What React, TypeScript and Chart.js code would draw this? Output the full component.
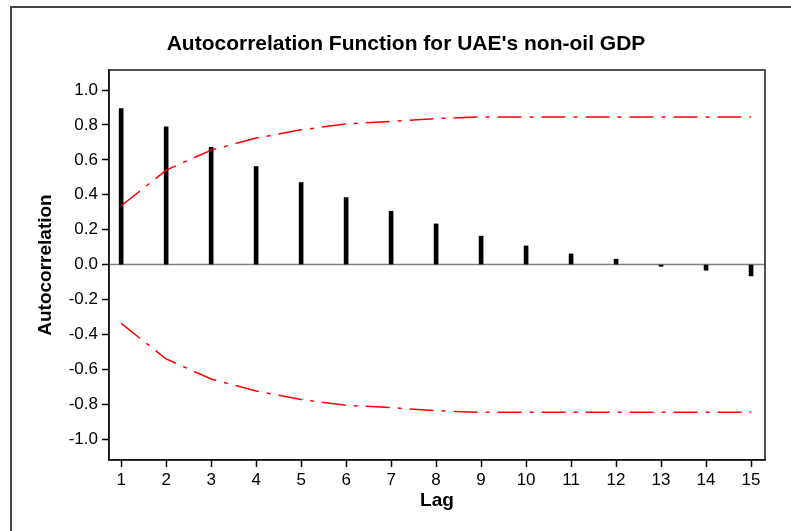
import React, { useEffect, useRef } from "react";
import { Chart, registerables } from "chart.js";

Chart.register(...registerables);

// Lags and sample autocorrelations
const LAGS = [1, 2, 3, 4, 5, 6, 7, 8, 9, 10, 11, 12, 13, 14, 15];
const ACF = [0.894, 0.79, 0.672, 0.562, 0.47, 0.384, 0.306, 0.233, 0.163, 0.107, 0.061, 0.031, -0.01, -0.032, -0.065];

// Significance limits (upper and lower)
const UPPER = [0.336, 0.541, 0.656, 0.725, 0.772, 0.806, 0.821, 0.837, 0.846, 0.846, 0.846, 0.846, 0.846, 0.846, 0.846];
const LOWER = [-0.337, -0.541, -0.656, -0.725, -0.773, -0.807, -0.82, -0.838, -0.847, -0.847, -0.847, -0.847, -0.847, -0.847, -0.847];

// Axis ticks
const Y_TICKS = [-1.0, -0.8, -0.6, -0.4, -0.2, 0.0, 0.2, 0.4, 0.6, 0.8, 1.0];
const X_TICKS = [1, 2, 3, 4, 5, 6, 7, 8, 9, 10, 11, 12, 13, 14, 15];

const TITLE = "Autocorrelation Function for UAE's non-oil GDP";
const FONT = '"Liberation Sans", Arial, sans-serif';

const framePlugin = {
  id: "frame",
  beforeDraw(chart: any) {
    const ctx = chart.ctx;
    ctx.save();
    ctx.fillStyle = "#ffffff";
    ctx.fillRect(0, 0, chart.width, chart.height);
    // outer frame (left and top edges)
    ctx.strokeStyle = "#444444";
    ctx.lineWidth = 2;
    ctx.beginPath();
    ctx.moveTo(11, chart.height + 2);
    ctx.lineTo(11, 7);
    ctx.lineTo(chart.width + 2, 7);
    ctx.stroke();
    // title
    ctx.fillStyle = "#000000";
    ctx.font = `bold 21px ${FONT}`;
    ctx.textAlign = "center";
    ctx.textBaseline = "middle";
    ctx.fillText(TITLE, 406, 44);
    ctx.restore();
  },
  beforeDatasetsDraw(chart: any) {
    const { ctx, chartArea } = chart;
    const y0 = chart.scales.y.getPixelForValue(0);
    ctx.save();
    ctx.strokeStyle = "#808080";
    ctx.lineWidth = 1.5;
    ctx.beginPath();
    ctx.moveTo(chartArea.left, y0);
    ctx.lineTo(chartArea.right, y0);
    ctx.stroke();
    ctx.restore();
  },
  afterDraw(chart: any) {
    const { ctx, chartArea } = chart;
    ctx.save();
    ctx.strokeStyle = "#1a1a1a";
    ctx.lineWidth = 1.5;
    ctx.strokeRect(chartArea.left, chartArea.top, chartArea.right - chartArea.left, chartArea.bottom - chartArea.top);
    ctx.restore();
  },
};

export default function App() {
  const canvasRef = useRef<HTMLCanvasElement | null>(null);

  useEffect(() => {
    document.body.style.margin = "0";
    const canvas = canvasRef.current;
    if (!canvas) return;

    const limitStyle = {
      type: "line" as const,
      borderColor: "#ff0000",
      borderWidth: 1.5,
      borderDash: [24, 8, 4, 8],
      pointRadius: 0,
      tension: 0,
      fill: false,
    };

    const chart = new Chart(canvas, {
      type: "bar",
      data: {
        datasets: [
          {
            ...limitStyle,
            label: "Upper limit",
            data: LAGS.map((l, i) => ({ x: l, y: UPPER[i] })),
          },
          {
            ...limitStyle,
            label: "Lower limit",
            data: LAGS.map((l, i) => ({ x: l, y: LOWER[i] })),
          },
          {
            type: "bar",
            label: "Autocorrelation",
            data: LAGS.map((l, i) => ({ x: l, y: ACF[i] })),
            backgroundColor: "#000000",
            borderWidth: 0,
            barThickness: 4,
            grouped: false,
          } as any,
        ],
      },
      options: {
        responsive: false,
        animation: false,
        devicePixelRatio: 1,
        layout: { padding: { left: 0, right: 26, top: 70, bottom: 0 } },
        plugins: {
          legend: { display: false },
          title: { display: false },
          tooltip: { enabled: false },
        },
        scales: {
          x: {
            type: "linear",
            offset: false,
            min: 0.73,
            max: 15.31,
            afterBuildTicks: (scale: any) => {
              scale.ticks = X_TICKS.map((v) => ({ value: v }));
            },
            afterFit: (scale: any) => {
              scale.height = 71;
            },
            grid: {
              offset: false,
              drawOnChartArea: false,
              drawTicks: true,
              tickLength: 7,
              tickColor: "#000000",
              tickWidth: 1.5,
            },
            border: { display: true, color: "#000000", width: 1.5 },
            ticks: {
              color: "#000000",
              font: { family: FONT, size: 17 },
              padding: 3,
              autoSkip: false,
              maxRotation: 0,
              callback: (v: any) => String(v),
            },
            title: {
              display: true,
              text: "Lag",
              color: "#000000",
              font: { family: FONT, size: 19, weight: "bold" },
              padding: { top: 0, bottom: 19 },
            },
          },
          y: {
            type: "linear",
            min: -1.12,
            max: 1.115,
            afterBuildTicks: (scale: any) => {
              scale.ticks = Y_TICKS.map((v) => ({ value: v }));
            },
            afterFit: (scale: any) => {
              scale.width = 109;
            },
            grid: {
              drawOnChartArea: false,
              drawTicks: true,
              tickLength: 7,
              tickColor: "#000000",
              tickWidth: 1.5,
            },
            border: { display: true, color: "#000000", width: 1.5 },
            ticks: {
              color: "#000000",
              font: { family: FONT, size: 17 },
              padding: 4,
              autoSkip: false,
              callback: (v: any) => Number(v).toFixed(1),
            },
            title: {
              display: true,
              text: "Autocorrelation",
              color: "#000000",
              font: { family: FONT, size: 19, weight: "bold" },
              padding: { top: 34, bottom: 0 },
            },
          },
        },
      },
      plugins: [framePlugin],
    });

    return () => chart.destroy();
  }, []);

  return (
    <div style={{ position: "absolute", left: 0, top: 0, width: 791, height: 531 }}>
      <canvas ref={canvasRef} width={791} height={531} />
    </div>
  );
}
